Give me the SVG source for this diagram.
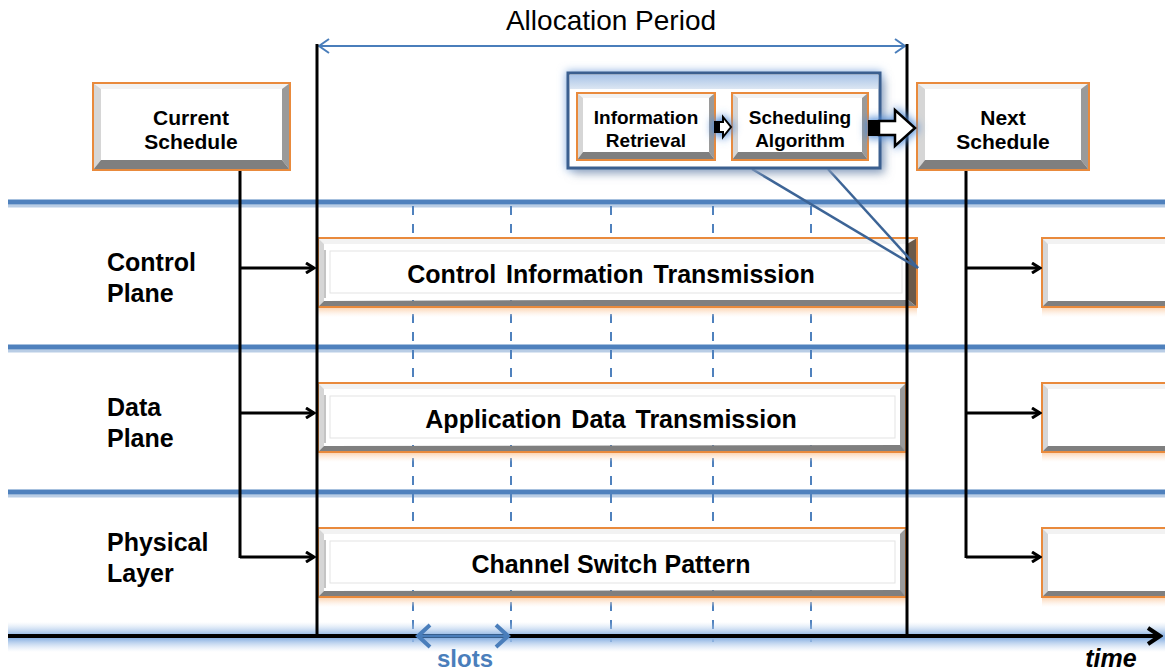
<svg xmlns="http://www.w3.org/2000/svg" width="1165" height="671" viewBox="0 0 1165 671">
  <style>
    .lbl { font-family: "Liberation Sans", Arial, sans-serif; font-weight: bold; fill: #000; }
    .bt { fill: #f2f2f2; }
    .bl { fill: #d6d6d6; }
    .br { fill: #9a9a9a; }
    .bb { fill: #7f7f7f; }
    .face { fill: #fff; }
    .edge { fill: none; stroke: #e98a3c; stroke-width: 2; }
    .inner { fill: none; stroke: #e3e3e3; stroke-width: 1; }
    .blk { stroke: #000; stroke-width: 3; fill: none; }
    .sep { stroke: #4f81bd; stroke-width: 5; }
    .sepsh { stroke: #b9cde5; stroke-width: 3; }
    .dash { stroke: #4f81bd; stroke-width: 2; stroke-dasharray: 9 9; }
    .link { stroke: #3c6496; stroke-width: 2.5; fill: none; }
  </style>
  <defs>
    <marker id="headBlk" markerWidth="12" markerHeight="12" refX="10" refY="6" orient="auto" markerUnits="userSpaceOnUse">
      <path d="M2,1 L10,6 L2,11" fill="none" stroke="#000" stroke-width="3"/>
    </marker>
    <marker id="headBlue" markerWidth="14" markerHeight="16" refX="12" refY="8" orient="auto-start-reverse" markerUnits="userSpaceOnUse">
      <path d="M2,1 L12,8 L2,15" fill="none" stroke="#4a7ebb" stroke-width="2"/>
    </marker>
    <marker id="headSlot" markerWidth="18" markerHeight="26" refX="15" refY="13" orient="auto-start-reverse" markerUnits="userSpaceOnUse">
      <path d="M3,2 L15,13 L3,24" fill="none" stroke="#4a7ebb" stroke-width="4"/>
    </marker>
    <marker id="headTime" markerWidth="18" markerHeight="20" refX="15" refY="10" orient="auto" markerUnits="userSpaceOnUse">
      <path d="M3,2 L15,10 L3,18" fill="none" stroke="#000" stroke-width="4"/>
    </marker>
    <linearGradient id="axisGlow" x1="0" y1="0" x2="0" y2="1">
      <stop offset="0" stop-color="#c6d9f1" stop-opacity="0"/>
      <stop offset="0.45" stop-color="#8eb4e3"/>
      <stop offset="0.55" stop-color="#8eb4e3"/>
      <stop offset="1" stop-color="#c6d9f1" stop-opacity="0"/>
    </linearGradient>
    <linearGradient id="reflect" x1="0" y1="0" x2="0" y2="1">
      <stop offset="0" stop-color="#fbcfa8"/>
      <stop offset="1" stop-color="#fde9d9" stop-opacity="0"/>
    </linearGradient>
    <linearGradient id="bandTop" x1="0" y1="0" x2="0" y2="1">
      <stop offset="0" stop-color="#a9c4e8"/>
      <stop offset="1" stop-color="#dce6f2"/>
    </linearGradient>
    <filter id="shadow" x="-10%" y="-20%" width="125%" height="150%">
      <feGaussianBlur in="SourceAlpha" stdDeviation="5"/>
      <feOffset dx="5" dy="6" result="b"/>
      <feFlood flood-color="#7f8fa6" flood-opacity="0.6"/>
      <feComposite in2="b" operator="in"/>
      <feMerge><feMergeNode/><feMergeNode in="SourceGraphic"/></feMerge>
    </filter>
    <filter id="glow" x="-50%" y="-50%" width="200%" height="200%">
      <feGaussianBlur stdDeviation="4"/>
    </filter>
  </defs>

  <rect width="1165" height="671" fill="#fff"/>

  <!-- layer separators -->
  <g id="separators">
    <line class="sepsh" x1="8" y1="206" x2="1165" y2="206"/>
    <line class="sep" x1="8" y1="202" x2="1165" y2="202"/>
    <line class="sepsh" x1="8" y1="351" x2="1165" y2="351"/>
    <line class="sep" x1="8" y1="347" x2="1165" y2="347"/>
    <line class="sepsh" x1="8" y1="496" x2="1165" y2="496"/>
    <line class="sep" x1="8" y1="492" x2="1165" y2="492"/>
  </g>

  <!-- slot boundaries -->
  <g id="slots">
    <line class="dash" x1="413" y1="206" x2="413" y2="642"/>
    <line class="dash" x1="511" y1="206" x2="511" y2="642"/>
    <line class="dash" x1="611" y1="206" x2="611" y2="642"/>
    <line class="dash" x1="713" y1="206" x2="713" y2="642"/>
    <line class="dash" x1="811" y1="206" x2="811" y2="642"/>
  </g>

  <!-- time axis -->
  <g id="time-axis">
    <rect x="8" y="622" width="1157" height="30" fill="url(#axisGlow)"/>
    <line x1="8" y1="636" x2="1160" y2="636" stroke="#000" stroke-width="4" marker-end="url(#headTime)"/>
    <text class="lbl" x="1111" y="667" font-size="25" font-style="italic" text-anchor="middle">time</text>
    <line x1="418" y1="636" x2="508" y2="636" stroke="#4a7ebb" stroke-width="3.5" marker-start="url(#headSlot)" marker-end="url(#headSlot)"/>
    <text x="465" y="667" font-family="Liberation Sans, Arial, sans-serif" font-weight="bold" font-size="24" fill="#4a7ebb" text-anchor="middle">slots</text>
  </g>

  <!-- layer labels -->
  <g id="layer-labels" class="lbl" font-size="25">
    <text x="107" y="271">Control</text>
    <text x="107" y="302">Plane</text>
    <text x="107" y="416">Data</text>
    <text x="107" y="447">Plane</text>
    <text x="107" y="551">Physical</text>
    <text x="107" y="582">Layer</text>
  </g>

  <!-- allocation period -->
  <g id="allocation-period">
    <text x="611" y="30" font-family="Liberation Sans, Arial, sans-serif" font-size="28" text-anchor="middle" fill="#000">Allocation Period</text>
    <line x1="319" y1="46" x2="905" y2="46" stroke="#4a7ebb" stroke-width="2" marker-start="url(#headBlue)" marker-end="url(#headBlue)"/>
  </g>

  <!-- transmission bars -->
  <g id="bar-control">
    <rect x="318" y="307" width="599" height="10" fill="url(#reflect)"/>
    <polygon class="bt" points="318,238 917,238 911,244 324,244"/>
    <polygon class="bl" points="318,238 324,244 324,301 318,307"/>
    <polygon points="917,238 917,307 907,299 907,244" fill="#6b5a4a"/>
    <polygon class="bb" points="318,307 917,307 907,299 324,301"/>
    <rect class="face" x="324" y="244" width="583" height="56"/>
    <rect class="inner" x="330" y="251" width="572" height="42"/>
    <line x1="325" y1="250" x2="325" y2="298" stroke="#b0b0b0" stroke-width="1.5"/>
    <rect class="edge" x="318" y="238" width="599" height="69"/>
    <text class="lbl" x="611" y="283" font-size="25" word-spacing="3" text-anchor="middle">Control Information Transmission</text>
  </g>
  <g id="bar-data">
    <rect x="318" y="452" width="588" height="10" fill="url(#reflect)"/>
    <polygon class="bt" points="318,383 906,383 900,389 324,389"/>
    <polygon class="bl" points="318,383 324,389 324,446 318,452"/>
    <polygon class="br" points="906,383 906,452 900,446 900,389"/>
    <polygon class="bb" points="318,452 906,452 900,445 324,446"/>
    <rect class="face" x="324" y="389" width="576" height="56"/>
    <rect class="inner" x="330" y="396" width="565" height="42"/>
    <line x1="325" y1="395" x2="325" y2="443" stroke="#b0b0b0" stroke-width="1.5"/>
    <rect class="edge" x="318" y="383" width="588" height="69"/>
    <text class="lbl" x="611" y="428" font-size="25" word-spacing="3" text-anchor="middle">Application Data Transmission</text>
  </g>
  <g id="bar-channel">
    <rect x="318" y="597" width="588" height="10" fill="url(#reflect)"/>
    <polygon class="bt" points="318,528 906,528 900,534 324,534"/>
    <polygon class="bl" points="318,528 324,534 324,591 318,597"/>
    <polygon class="br" points="906,528 906,597 900,591 900,534"/>
    <polygon class="bb" points="318,597 906,597 900,590 324,591"/>
    <rect class="face" x="324" y="534" width="576" height="56"/>
    <rect class="inner" x="330" y="541" width="565" height="42"/>
    <line x1="325" y1="540" x2="325" y2="588" stroke="#b0b0b0" stroke-width="1.5"/>
    <rect class="edge" x="318" y="528" width="588" height="69"/>
    <text class="lbl" x="611" y="573" font-size="25" text-anchor="middle">Channel Switch Pattern</text>
  </g>

  <!-- next period bars -->
  <g id="next-bars">
    <rect x="1042" y="307" width="130" height="10" fill="url(#reflect)"/>
    <polygon class="bt" points="1042,238 1172,238 1166,244 1048,244"/>
    <polygon class="bl" points="1042,238 1048,244 1048,301 1042,307"/>
    <polygon class="bb" points="1042,307 1172,307 1166,301 1048,301"/>
    <rect class="face" x="1048" y="244" width="120" height="57"/>
    <rect class="edge" x="1042" y="238" width="130" height="69"/>
    <rect x="1042" y="452" width="130" height="10" fill="url(#reflect)"/>
    <polygon class="bt" points="1042,383 1172,383 1166,389 1048,389"/>
    <polygon class="bl" points="1042,383 1048,389 1048,446 1042,452"/>
    <polygon class="bb" points="1042,452 1172,452 1166,446 1048,446"/>
    <rect class="face" x="1048" y="389" width="120" height="57"/>
    <rect class="edge" x="1042" y="383" width="130" height="69"/>
    <rect x="1042" y="597" width="130" height="10" fill="url(#reflect)"/>
    <polygon class="bt" points="1042,528 1172,528 1166,534 1048,534"/>
    <polygon class="bl" points="1042,528 1048,534 1048,591 1042,597"/>
    <polygon class="bb" points="1042,597 1172,597 1166,591 1048,591"/>
    <rect class="face" x="1048" y="534" width="120" height="57"/>
    <rect class="edge" x="1042" y="528" width="130" height="69"/>
  </g>

  <!-- connectors -->
  <g id="connectors">
    <line class="blk" x1="317" y1="44" x2="317" y2="636"/>
    <line class="blk" x1="907" y1="44" x2="907" y2="636"/>
    <line class="blk" x1="240" y1="170" x2="240" y2="558"/>
    <line class="blk" x1="240" y1="268" x2="314" y2="268" marker-end="url(#headBlk)"/>
    <line class="blk" x1="240" y1="413" x2="314" y2="413" marker-end="url(#headBlk)"/>
    <line class="blk" x1="240" y1="557" x2="314" y2="557" marker-end="url(#headBlk)"/>
    <line class="blk" x1="966" y1="170" x2="966" y2="558"/>
    <line class="blk" x1="966" y1="268" x2="1040" y2="268" marker-end="url(#headBlk)"/>
    <line class="blk" x1="966" y1="413" x2="1040" y2="413" marker-end="url(#headBlk)"/>
    <line class="blk" x1="966" y1="557" x2="1040" y2="557" marker-end="url(#headBlk)"/>
    <line class="link" x1="752" y1="169" x2="918" y2="268"/>
    <line class="link" x1="828" y1="169" x2="918" y2="268"/>
  </g>

  <!-- schedule boxes -->
  <g id="current-schedule">
    <polygon class="bt" points="93,83 290,83 282,89 101,89"/>
    <polygon class="bl" points="93,83 101,89 101,160 93,170"/>
    <polygon class="br" points="290,83 290,170 282,160 282,89"/>
    <polygon class="bb" points="93,170 290,170 282,160 101,160"/>
    <rect class="face" x="101" y="89" width="181" height="71"/>
    <rect class="edge" x="93" y="83" width="197" height="87"/>
    <text class="lbl" x="191" y="125" font-size="21" text-anchor="middle">Current</text>
    <text class="lbl" x="191" y="149" font-size="21" text-anchor="middle">Schedule</text>
  </g>
  <g id="next-schedule">
    <polygon class="bt" points="917,83 1089,83 1081,89 925,89"/>
    <polygon class="bl" points="917,83 925,89 925,160 917,170"/>
    <polygon class="br" points="1089,83 1089,170 1081,160 1081,89"/>
    <polygon class="bb" points="917,170 1089,170 1081,160 925,160"/>
    <rect class="face" x="925" y="89" width="156" height="71"/>
    <rect class="edge" x="917" y="83" width="172" height="87"/>
    <text class="lbl" x="1003" y="125" font-size="21" text-anchor="middle">Next</text>
    <text class="lbl" x="1003" y="149" font-size="21" text-anchor="middle">Schedule</text>
  </g>

  <!-- scheduling process -->
  <g id="scheduler">
    <rect x="566" y="71" width="316" height="99" fill="#8fb4e3" filter="url(#glow)"/>
    <rect x="568" y="73" width="312" height="95" fill="#fff" filter="url(#shadow)"/>
    <rect x="570" y="75" width="308" height="14" fill="url(#bandTop)"/>
    <rect x="568" y="73" width="312" height="95" fill="none" stroke="#3b5f8f" stroke-width="3"/>
  </g>
  <g id="information-retrieval">
    <polygon class="bt" points="577,93 715,93 709,98 583,98"/>
    <polygon class="bl" points="577,93 583,98 583,152 577,160"/>
    <polygon class="br" points="715,93 715,160 709,152 709,98"/>
    <polygon class="bb" points="577,160 715,160 709,152 583,152"/>
    <rect class="face" x="583" y="98" width="126" height="54"/>
    <rect class="edge" x="577" y="93" width="138" height="67"/>
    <text class="lbl" x="646" y="124" font-size="19" text-anchor="middle">Information</text>
    <text class="lbl" x="646" y="147" font-size="19" text-anchor="middle">Retrieval</text>
  </g>
  <g id="scheduling-algorithm">
    <polygon class="bt" points="732,93 868,93 862,98 738,98"/>
    <polygon class="bl" points="732,93 738,98 738,152 732,160"/>
    <polygon class="br" points="868,93 868,160 862,152 862,98"/>
    <polygon class="bb" points="732,160 868,160 862,152 738,152"/>
    <rect class="face" x="738" y="98" width="124" height="54"/>
    <rect class="edge" x="732" y="93" width="136" height="67"/>
    <text class="lbl" x="800" y="124" font-size="19" text-anchor="middle">Scheduling</text>
    <text class="lbl" x="800" y="147" font-size="19" text-anchor="middle">Algorithm</text>
  </g>

  <!-- block arrows -->
  <g id="block-arrows">
    <path d="M712,119 L722,119 L722,113 L735,127 L722,141 L722,135 L712,135 Z" fill="#4f8ad6" filter="url(#glow)"/>
    <rect x="714" y="121" width="6" height="12" fill="#000"/>
    <path d="M719,122 L723,122 L723,117 L731,127 L723,137 L723,132 L719,132 Z" fill="#fff" stroke="#000" stroke-width="2"/>
    <path d="M866,118 L895,118 L895,106 L920,128 L895,150 L895,138 L866,138 Z" fill="#4f8ad6" filter="url(#glow)"/>
    <rect x="868" y="120" width="12" height="16" fill="#000"/>
    <path d="M879,121 L895,121 L895,110 L915,128 L895,146 L895,135 L879,135 Z" fill="#fff" stroke="#000" stroke-width="2.5"/>
  </g>
</svg>
